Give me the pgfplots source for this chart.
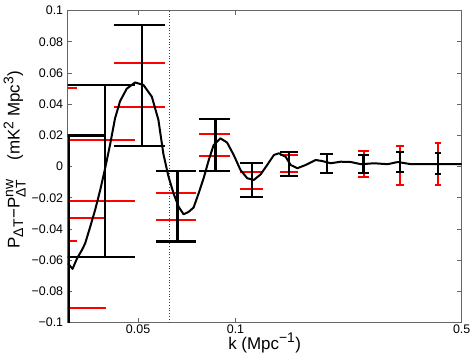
\documentclass[border=0pt]{standalone}
\usepackage{fontspec}
\setmainfont{Liberation Sans}
\usepackage{amsmath}
\DeclareMathSizes{17}{17}{14}{11}
\usepackage{pgfplots}
\pgfplotsset{compat=1.18}

\begin{document}
\begin{tikzpicture}
\path[use as bounding box] (-67.7bp,-40.3bp) rectangle (406.3bp,322.7bp);
\begin{axis}[
  at={(0,0)}, anchor=south west,
  scale only axis, width=394bp, height=312bp,
  xmode=log, xmin=0.0303, xmax=0.5, ymin=-0.1, ymax=0.1,
  xtick={0.05,0.1,0.5}, xticklabels={0.05,0.1,0.5},
  xminorticks=false, yminorticks=false,
  ytick={-0.1,-0.08,-0.06,-0.04,-0.02,0,0.02,0.04,0.06,0.08,0.1},
  yticklabels={−0.1,−0.08,−0.06,−0.04,−0.02,0,0.02,0.04,0.06,0.08,0.1},
  tick align=inside, major tick length=4.5bp,
  axis line style={black!60, line width=0.9bp},
  tick style={black!60, line width=0.8bp},
  tick label style={font=\fontsize{12.5}{14}\selectfont, black},
  yticklabel style={xshift=-1bp},
  xticklabel style={inner sep=1bp, yshift=-1.3bp},
  xlabel={k (Mpc$^{\text{−1}}$)},
  ylabel={P$_{\text{ΔT}}$−P$^{\text{nw}}_{\text{ΔT}}$\hspace{1.1em}(mK$^{\text{2}}$ Mpc$^{\text{3}}$)},
  every axis x label/.style={at={(axis description cs:0.5,-0.0843)}, anchor=base, inner sep=0pt, font=\fontsize{17}{20}\selectfont},
  every axis y label/.style={at={(axis description cs:-0.1223,0.523)}, anchor=base, rotate=90, inner sep=0pt, font=\fontsize{17}{20}\selectfont},
  unbounded coords=jump,
]
% dotted reference line
\addplot[black!75, line width=0.8bp, dash pattern=on 1bp off 1.8bp] coordinates {(0.0625,-0.1) (0.0625,0.1)};

% red error bars
\addplot[color=red, line width=2bp] coordinates {
(0.0138,0.0506) (0.0324,0.0506) (0.0231,nan)
(0.0231,0.0506) (0.0231,-0.0476) (0.0231,nan)
(0.0138,-0.0476) (0.0324,-0.0476) (0.0231,nan)
(0.0213,-0.0331) (0.0399,-0.0331) (0.0306,nan)
(0.0306,-0.0331) (0.0306,-0.0904) (0.0306,nan)
(0.0213,-0.0904) (0.0399,-0.0904) (0.0306,nan)
(0.0302,0.0169) (0.0488,0.0169) (0.0395,nan)
(0.0395,0.0169) (0.0395,-0.0222) (0.0395,nan)
(0.0302,-0.0222) (0.0488,-0.0222) (0.0395,nan)
(0.0420,0.0663) (0.0606,0.0663) (0.0513,nan)
(0.0513,0.0663) (0.0513,0.0381) (0.0513,nan)
(0.0420,0.0381) (0.0606,0.0381) (0.0513,nan)
(0.0569,-0.0171) (0.0755,-0.0171) (0.0662,nan)
(0.0662,-0.0171) (0.0662,-0.0342) (0.0662,nan)
(0.0569,-0.0342) (0.0755,-0.0342) (0.0662,nan)
(0.0774,0.0208) (0.0960,0.0208) (0.0867,nan)
(0.0867,0.0208) (0.0867,0.0069) (0.0867,nan)
(0.0774,0.0069) (0.0960,0.0069) (0.0867,nan)
(0.1033,-0.0032) (0.1219,-0.0032) (0.1126,nan)
(0.1126,-0.0032) (0.1126,-0.0143) (0.1126,nan)
(0.1033,-0.0143) (0.1219,-0.0143) (0.1126,nan)
(0.1369,0.0075) (0.1555,0.0075) (0.1462,nan)
(0.1462,0.0075) (0.1462,-0.0036) (0.1462,nan)
(0.1369,-0.0036) (0.1555,-0.0036) (0.1462,nan)
(0.2394,0.0103) (0.2580,0.0103) (0.2487,nan)
(0.2487,0.0103) (0.2487,-0.0068) (0.2487,nan)
(0.2394,-0.0068) (0.2580,-0.0068) (0.2487,nan)
(0.3137,0.0135) (0.3323,0.0135) (0.3230,nan)
(0.3230,0.0135) (0.3230,-0.0117) (0.3230,nan)
(0.3137,-0.0117) (0.3323,-0.0117) (0.3230,nan)
(0.4125,0.0150) (0.4311,0.0150) (0.4218,nan)
(0.4218,0.0150) (0.4218,-0.0117) (0.4218,nan)
(0.4125,-0.0117) (0.4311,-0.0117)
};

% black error bars
\addplot[black, line width=2.2bp] coordinates {
(0.0213,0.0200) (0.0399,0.0200) (0.0306,nan)
(0.0306,0.0200) (0.0306,-0.1200) (0.0306,nan)
(0.0302,0.0524) (0.0488,0.0524) (0.0395,nan)
(0.0395,0.0524) (0.0395,-0.0579) (0.0395,nan)
(0.0302,-0.0579) (0.0488,-0.0579) (0.0395,nan)
(0.0420,0.0908) (0.0606,0.0908) (0.0513,nan)
(0.0513,0.0908) (0.0513,0.0135) (0.0513,nan)
(0.0420,0.0135) (0.0606,0.0135) (0.0513,nan)
(0.0569,-0.0028) (0.0755,-0.0028) (0.0662,nan)
(0.0662,-0.0028) (0.0662,-0.0480) (0.0662,nan)
(0.0569,-0.0480) (0.0755,-0.0480) (0.0662,nan)
(0.0774,0.0308) (0.0960,0.0308) (0.0867,nan)
(0.0867,0.0308) (0.0867,-0.0030) (0.0867,nan)
(0.0774,-0.0030) (0.0960,-0.0030) (0.0867,nan)
(0.1033,0.0022) (0.1219,0.0022) (0.1126,nan)
(0.1126,0.0022) (0.1126,-0.0196) (0.1126,nan)
(0.1033,-0.0196) (0.1219,-0.0196) (0.1126,nan)
(0.1369,0.0096) (0.1555,0.0096) (0.1462,nan)
(0.1462,0.0096) (0.1462,-0.0058) (0.1462,nan)
(0.1369,-0.0058) (0.1555,-0.0058) (0.1462,nan)
(0.1821,0.0081) (0.2007,0.0081) (0.1914,nan)
(0.1914,0.0081) (0.1914,-0.0038) (0.1914,nan)
(0.1821,-0.0038) (0.2007,-0.0038) (0.1914,nan)
(0.2394,0.0075) (0.2580,0.0075) (0.2487,nan)
(0.2487,0.0075) (0.2487,-0.0038) (0.2487,nan)
(0.2394,-0.0038) (0.2580,-0.0038) (0.2487,nan)
(0.3137,0.0092) (0.3323,0.0092) (0.3230,nan)
(0.3230,0.0092) (0.3230,-0.0032) (0.3230,nan)
(0.3137,-0.0032) (0.3323,-0.0032) (0.3230,nan)
(0.4125,0.0086) (0.4311,0.0086) (0.4218,nan)
(0.4218,0.0086) (0.4218,-0.0049) (0.4218,nan)
(0.4125,-0.0049) (0.4311,-0.0049)
};

% model curve
\addplot[black, line width=2bp, line join=round] coordinates {
(0.03030,-0.0619) (0.03049,-0.0625) (0.03137,-0.0655) (0.03235,-0.0590)
(0.03353,-0.0534) (0.03432,-0.0491) (0.03557,-0.0385) (0.03686,-0.0275)
(0.03820,-0.0149) (0.03951,-0.0015) (0.04095,0.0140) (0.04244,0.0310)
(0.04398,0.0420) (0.04613,0.0500) (0.04894,0.0540) (0.05193,0.0524)
(0.05513,0.0449) (0.05778,0.0300) (0.05988,0.0080) (0.06209,-0.0064)
(0.06434,-0.0171) (0.06668,-0.0256) (0.06911,-0.0305) (0.07161,-0.0290)
(0.07422,-0.0262) (0.07691,-0.0171) (0.07970,-0.0075) (0.08260,0.0040)
(0.08560,0.0139) (0.08980,0.0182) (0.09419,0.0155) (0.09874,0.0075)
(0.1036,-0.0021) (0.1087,-0.0074) (0.1139,-0.0085) (0.1195,-0.0050)
(0.1253,0.0011) (0.1314,0.0075) (0.1361,0.0086) (0.1428,0.0064)
(0.1481,0.0011) (0.1553,-0.0010) (0.1647,0.0011) (0.1769,0.0043)
(0.1856,0.0036) (0.1969,0.0022) (0.2115,0.0032) (0.2272,0.0030)
(0.2440,0.0016) (0.2683,0.0022) (0.2952,0.0016) (0.3171,0.0030)
(0.3486,0.0016) (0.3835,0.0016) (0.4218,0.0016) (0.4637,0.0016)
(0.5000,0.0016)
};
\end{axis}
\end{tikzpicture}
\end{document}
